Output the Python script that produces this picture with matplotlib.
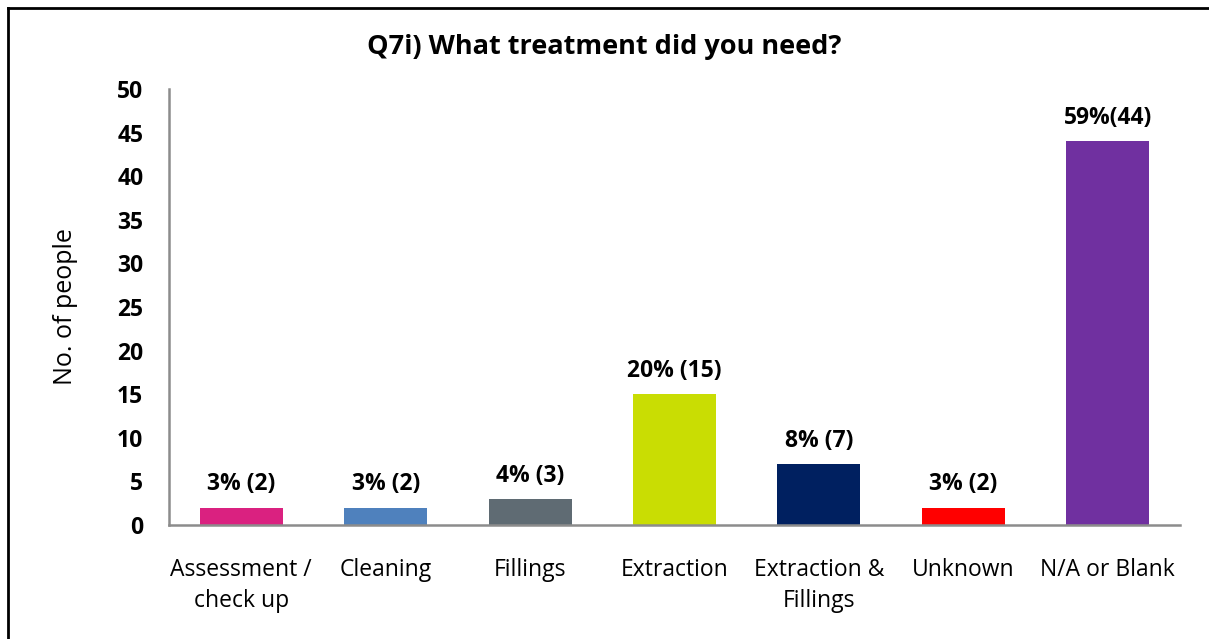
import matplotlib
matplotlib.use("Agg")
import matplotlib.pyplot as plt
from matplotlib.lines import Line2D

categories = ["Assessment /\ncheck up", "Cleaning", "Fillings", "Extraction",
              "Extraction &\nFillings", "Unknown", "N/A or Blank"]
counts = [2, 2, 3, 15, 7, 2, 44]
percents = [3, 3, 4, 20, 8, 3, 59]
label_formats = ["{p}% ({c})"] * 6 + ["{p}%({c})"]
colors = ["#DA2180", "#4F81BD", "#5F6B73", "#C9DD03", "#002060", "#FF0000", "#7030A0"]
yticks = list(range(0, 51, 5))

plt.rcParams["font.family"] = ["Open Sans", "DejaVu Sans"]

W, H = 1209, 639
fig = plt.figure(figsize=(W / 100, H / 100), dpi=100)
ax = fig.add_axes([169 / W, 1 - 525 / H, (1180 - 169) / W, (525 - 89) / H])

x = list(range(len(categories)))
ax.bar(x, counts, width=0.575, color=colors, zorder=2)

for xi, c, p, fmt in zip(x, counts, percents, label_formats):
    ax.annotate(fmt.format(p=p, c=c), (xi, c), xytext=(0, 8), textcoords="offset points",
                ha="center", va="bottom", fontsize=16.5, fontweight="bold")

ax.set_xlim(-0.5, len(categories) - 0.5)
ax.set_ylim(0, 50)
ax.set_yticks(yticks)
ax.set_yticklabels([str(t) for t in yticks], fontsize=16.5, fontweight="bold")
ax.set_xticks(x)
ax.set_xticklabels(categories, fontsize=16.5, linespacing=1.4)
ax.tick_params(axis="both", length=0)
ax.tick_params(axis="x", pad=23.5)
ax.tick_params(axis="y", pad=18.5)

for side in ("top", "right"):
    ax.spines[side].set_visible(False)
for side in ("left", "bottom"):
    ax.spines[side].set_color("#8C8C8C")
    ax.spines[side].set_linewidth(1.8)

ax.set_ylabel("No. of people", fontsize=18)
ax.yaxis.set_label_coords(-0.09, 0.5)

fig.text(0.5, 1 - 47 / H, "Q7i) What treatment did you need?", ha="center", va="center",
         fontsize=19.5, fontweight="bold")

# open frame: top edge and left edge only
fig.add_artist(Line2D([8 / W, 1.0], [1 - 7.5 / H, 1 - 7.5 / H], transform=fig.transFigure,
                      color="black", linewidth=2))
fig.add_artist(Line2D([8 / W, 8 / W], [0.0, 1 - 7.5 / H], transform=fig.transFigure,
                      color="black", linewidth=2))

fig.savefig("out.png", dpi=100)
